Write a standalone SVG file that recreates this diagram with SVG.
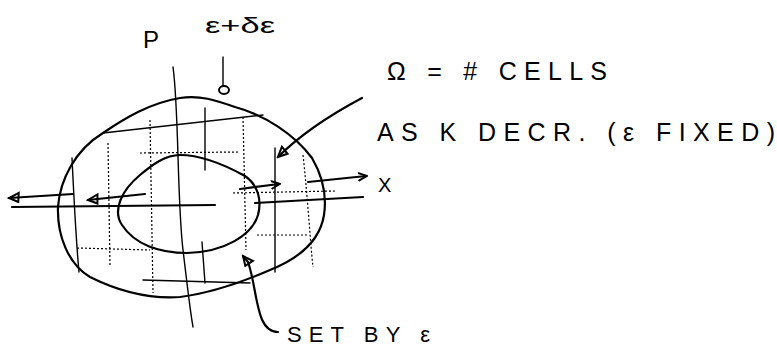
<svg xmlns="http://www.w3.org/2000/svg" width="777" height="347" viewBox="0 0 777 347">
<style>
.s{fill:none;stroke:#000;stroke-width:2.2;stroke-linecap:round;stroke-linejoin:round}
.t{fill:none;stroke:#000;stroke-width:1.4;stroke-linecap:round}
.d{fill:none;stroke:#000;stroke-width:1.2;stroke-dasharray:2 2}
.h{font-family:"Liberation Sans",Arial,sans-serif;fill:#000}
</style>
<defs>
<marker id="ah" markerWidth="10" markerHeight="10" refX="8" refY="5" orient="auto" markerUnits="userSpaceOnUse">
<path d="M0,1 L9,5 L0,9" fill="none" stroke="#000" stroke-width="2"/>
</marker>
<marker id="ab" markerWidth="14" markerHeight="12" refX="12" refY="6" orient="auto" markerUnits="userSpaceOnUse">
<path d="M12,6 L3,1.5 L2,10.5 Z" fill="none" stroke="#000" stroke-width="2"/>
</marker>
</defs>
<rect width="777" height="347" fill="#fff"/>
<g id="grid">
<path class="t" d="M173,67 C179,110 177,200 183,250 S190,310 193,327"/>
<path class="t" d="M72,158 C74,200 76,240 79,272"/>
<path class="d" d="M108,143 L110,267"/>
<path class="d" d="M150,120 L153,293"/>
<path class="t" d="M205,108 L205,170"/>
<path class="t" d="M202,242 L205,283"/>
<path class="d" d="M243,117 L246,250"/>
<path class="t" d="M275,148 L275,272"/>
<path class="d" d="M303,155 C308,200 310,240 313,267"/>
<path class="t" d="M103,133 L263,115"/>
<path class="t" d="M143,280 L250,283"/>
<path class="d" d="M140,153 L240,152"/>
<path class="d" d="M77,248 L150,250"/>
<path class="d" d="M257,235 L307,235"/>
<path class="d" d="M233,193 L335,191"/>
</g>
<g id="outer">
<path class="s" d="M58,207 C60,180 75,150 103,133 C125,118 150,103 180,98 C200,95 215,100 235,107 C265,115 295,135 312,158 C322,175 327,195 324,215 C320,240 300,258 270,270 C240,283 210,293 180,297 C150,299 120,292 90,277 C68,264 57,235 58,207 Z"/>
</g>
<g id="inner">
<path class="s" d="M180,155 C200,155 225,165 245,176 C258,185 262,200 258,215 C252,235 225,252 187,253 C160,253 135,245 122,225 C112,210 122,190 140,175 C152,165 165,155 180,155 Z"/>
</g>
<g id="connectors">
<path class="s" d="M12,207 L215,205"/>
<path class="s" d="M255,203 L363,197"/>
<path class="s" d="M73,194 L9,198" marker-end="url(#ab)"/>
<path class="s" d="M145,194 L88,200" marker-end="url(#ab)"/>
<path class="s" d="M240,189 L279,184" marker-end="url(#ah)"/>
<path class="s" d="M308,182 L366,176" marker-end="url(#ah)"/>
<path class="s" d="M362,98 C330,115 300,135 278,157" marker-end="url(#ab)"/>
<path class="t" d="M223,57 L223,86"/>
<ellipse cx="224" cy="90" rx="5" ry="4" fill="none" stroke="#000" stroke-width="2"/>
<path class="s" d="M278,332 C255,332 258,290 248,262 L243,256" marker-end="url(#ab)"/>
</g>
<g id="labels">
<text class="h" x="143" y="48" font-size="24">P</text>
<text class="h" x="205" y="33" font-size="22" textLength="70" lengthAdjust="spacingAndGlyphs">ε+δε</text>
<text class="h" x="387" y="80" font-size="25" textLength="220" lengthAdjust="spacing">Ω = # CELLS</text>
<text class="h" x="377" y="141" font-size="25" textLength="398" lengthAdjust="spacing">AS K DECR. (ε FIXED)</text>
<text class="h" x="378" y="192" font-size="20">X</text>
<text class="h" x="287" y="342" font-size="22" textLength="143" lengthAdjust="spacing">SET BY ε</text>
</g>
</svg>
